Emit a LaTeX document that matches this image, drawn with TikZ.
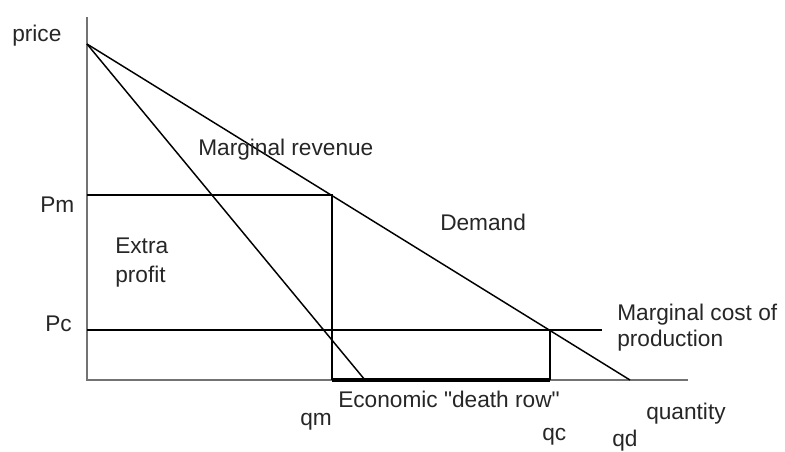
\documentclass[tikz,border=0pt]{standalone}
\usepackage{fontspec}
\setmainfont{Liberation Sans}[Ligatures=TeXOff]
\begin{document}
\begin{tikzpicture}[x=0.75pt,y=-0.75pt,
  axisline/.style={draw=black!55,line width=1.4pt},
  curveline/.style={draw=black,line width=1.1pt},
  thickline/.style={draw=black,line width=3pt},
  lbl/.style={inner sep=0pt,anchor=base west,text=black!85,font=\fontsize{17}{20}\selectfont}]
\useasboundingbox (0,0) rectangle (785,451);
% coordinates
\coordinate (O) at (87,380);
\coordinate (ytop) at (87,17);
\coordinate (xend) at (688,380);
\coordinate (apex) at (87,44);
\coordinate (Dq) at (630,380);
\coordinate (MRq) at (365,380);
\coordinate (PmL) at (87,195);
\coordinate (Mpt) at (332,195);
\coordinate (qmB) at (332,380);
\coordinate (PcL) at (87,330);
\coordinate (Cpt) at (550,330);
\coordinate (PcR) at (602,330);
\coordinate (qcB) at (550,380);
% axes
\draw[axisline] (ytop) -- (O) -- (xend);
% curves
\draw[curveline] (apex) -- (Dq);
\draw[curveline] (apex) -- (MRq);
\draw[curveline] (PmL) -- (Mpt) -- (qmB);
\draw[curveline] (PcL) -- (PcR);
\draw[curveline] (Cpt) -- (qcB);
\draw[thickline] (qmB) -- (qcB);
% labels
\node[lbl] (price) at (12,41) {price};
\node[lbl] (pm) at (40,212) {Pm};
\node[lbl] (pc) at (45,331) {Pc};
\node[lbl] (extra) at (115,253) {Extra};
\node[lbl] (profit) at (115,282) {profit};
\node[lbl] (mr) at (198,155) {Marginal revenue};
\node[lbl] (dem) at (440,230) {Demand};
\node[lbl] (mc1) at (617,320) {Marginal cost of};
\node[lbl] (mc2) at (617,346) {production};
\node[lbl] (edr) at (338,407) {Economic "death row"};
\node[lbl] (qm) at (300,425) {qm};
\node[lbl] (qc) at (542,440) {qc};
\node[lbl] (qty) at (646,419) {quantity};
\node[lbl] (qd) at (612,446) {qd};
\end{tikzpicture}
\end{document}
